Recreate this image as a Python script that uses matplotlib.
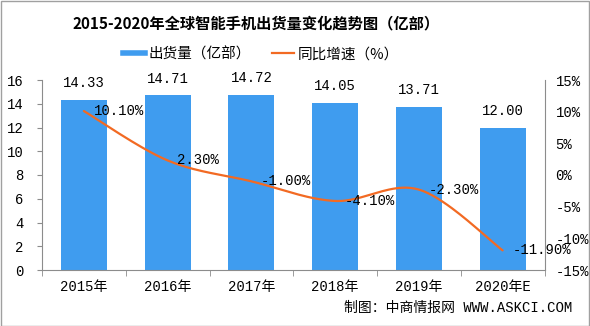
import numpy as np
import matplotlib
matplotlib.use("Agg")
import matplotlib.pyplot as plt
from matplotlib.lines import Line2D
from matplotlib.patches import Rectangle

plt.rcParams['font.family'] = ['Noto Sans CJK SC', 'DejaVu Sans']

categories = ['2015年', '2016年', '2017年', '2018年', '2019年', '2020年E']
shipments = [14.33, 14.71, 14.72, 14.05, 13.71, 12.00]
growth = [10.10, 2.30, -1.00, -4.10, -2.30, -11.90]
left_ticks = [0, 2, 4, 6, 8, 10, 12, 14, 16]
right_ticks = [-15, -10, -5, 0, 5, 10, 15]

BLUE = '#3F9CEF'
ORANGE = '#F26A23'
AXC = '#8C8C8C'
NUMFONT = ['Liberation Mono', 'Noto Sans CJK SC']

fig = plt.figure(figsize=(5.9, 3.26), dpi=100)
ax = fig.add_axes([42/590, 1-270/326, (544.5-42)/590, 190/326])
x = np.arange(len(categories))
ax.bar(x, shipments, width=0.55, color=BLUE, zorder=2)
ax.set_xlim(-0.5, len(categories)-0.5)
ax.set_ylim(0, 16)
ax.set_yticks(left_ticks)
ax.set_yticklabels([str(t) for t in left_ticks], family=NUMFONT, fontsize=10)
ax.set_xticks(x)
ax.set_xticklabels(categories, family=NUMFONT, fontsize=10)
ax.set_xticks(np.arange(-0.5, len(categories)), minor=True)
ax.tick_params(axis='x', which='major', length=0, pad=7)
ax.tick_params(axis='x', which='minor', length=4, color=AXC, direction='out')
ax.tick_params(axis='y', length=3.5, color=AXC, pad=10)
for s in ['top', 'right']:
    ax.spines[s].set_visible(False)
for s in ['left', 'bottom']:
    ax.spines[s].set_color(AXC)

for xi, v in zip(x, shipments):
    ax.annotate(f'{v:.2f}', (xi, v), xytext=(0, 7), textcoords='offset points',
                ha='center', va='bottom', family=NUMFONT, fontsize=10, zorder=5)

ax2 = ax.twinx()
ax2.set_ylim(-15, 15)
ax2.set_yticks(right_ticks)
ax2.set_yticklabels([f'{t}%' for t in right_ticks], family=NUMFONT, fontsize=10)
ax2.tick_params(axis='y', length=0, pad=8)
for s in ['top', 'left', 'bottom']:
    ax2.spines[s].set_visible(False)
ax2.spines['right'].set_color(AXC)

# smooth (Catmull-Rom style bezier) curve through the growth points
px = x.astype(float)
py = np.array(growth, dtype=float)
cx, cy = [], []
n = len(px)
for i in range(n-1):
    p0 = (px[max(i-1, 0)], py[max(i-1, 0)])
    p1 = (px[i], py[i])
    p2 = (px[i+1], py[i+1])
    p3 = (px[min(i+2, n-1)], py[min(i+2, n-1)])
    c1 = (p1[0] + (p2[0]-p0[0])/6, p1[1] + (p2[1]-p0[1])/6)
    c2 = (p2[0] - (p3[0]-p1[0])/6, p2[1] - (p3[1]-p1[1])/6)
    t = np.linspace(0, 1, 40)
    bx = (1-t)**3*p1[0] + 3*(1-t)**2*t*c1[0] + 3*(1-t)*t**2*c2[0] + t**3*p2[0]
    by = (1-t)**3*p1[1] + 3*(1-t)**2*t*c1[1] + 3*(1-t)*t**2*c2[1] + t**3*p2[1]
    cx.extend(bx); cy.extend(by)
ax2.plot(cx, cy, color=ORANGE, lw=1.6, zorder=3, solid_capstyle='round')

for xi, v in zip(x, growth):
    ax2.annotate(f'{v:.2f}%', (xi, v), xytext=(7, 0), textcoords='offset points',
                 ha='left', va='center', family=NUMFONT, fontsize=10, zorder=6)

fig.text(256/590, 1-23/326, '2015-2020年全球智能手机出货量变化趋势图（亿部）',
         ha='center', va='center', fontsize=11, fontweight='bold')

handles = [Line2D([], [], color=BLUE, lw=4), Line2D([], [], color=ORANGE, lw=1.6)]
fig.legend(handles, ['出货量（亿部）', '同比增速（%）'], loc='center',
           bbox_to_anchor=(261/590, 1-54/326), ncol=2, frameon=False, fontsize=10.5,
           handlelength=1.5, handletextpad=0.3, columnspacing=1.4)

fig.text(572/590, 1-308/326, '制图：中商情报网 WWW.ASKCI.COM', ha='right', va='center',
         family=NUMFONT, fontsize=10)

fig.patches.append(Rectangle((0.5/590, 0.5/326), 588/590, 324.5/326, transform=fig.transFigure,
                             fill=False, edgecolor='#A0A0A0', lw=1))

fig.savefig('out.png', dpi=100)
